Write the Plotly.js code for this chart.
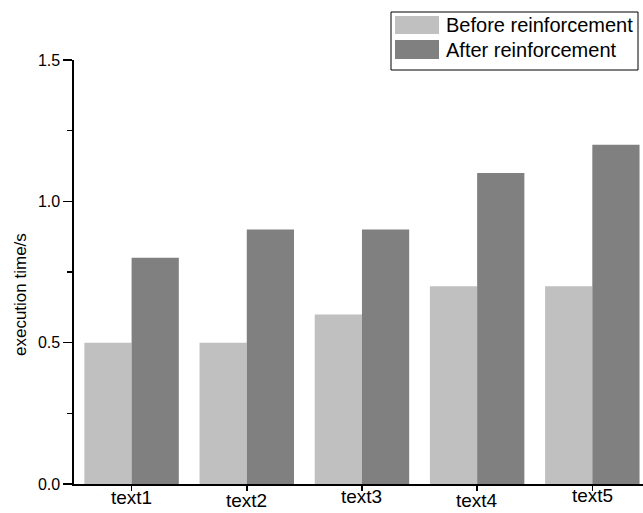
<!DOCTYPE html>
<html>
<head>
<meta charset="utf-8">
<script src="https://cdn.plot.ly/plotly-3.0.1.min.js"></script>
<style>html,body{margin:0;padding:0;overflow:hidden;background:#fff}</style>
</head>
<body>
<div id="chart" style="width:643px;height:513px"></div>
<script>
// ---- data ----
const categories = ["text1", "text2", "text3", "text4", "text5"];
const beforeValues = [0.5, 0.5, 0.6, 0.7, 0.7];
const afterValues = [0.8, 0.9, 0.9, 1.1, 1.2];
const seriesNames = ["Before reinforcement", "After reinforcement"];
const yTickVals = [0, 0.5, 1.0, 1.5];
const yTickText = ["0.0", "0.5", "1.0", "1.5"];
const yMinorVals = [0.25, 0.75, 1.25];
const yTitle = "execution time/s";

// ---- layout helpers (pixels -> paper) ----
const W = 643, H = 513;
const M = {l: 74, r: 0, t: 60, b: 29};
const PW = W - M.l - M.r, PH = H - M.t - M.b;
const px = x => (x - M.l) / PW;
const py = y => (H - M.b - y) / PH;

const lightColor = "#c0c0c0", darkColor = "#808080";
const font = "Liberation Sans, Arial, Helvetica, sans-serif";

const traces = [
  {type: "bar", x: categories, y: beforeValues, name: seriesNames[0],
   marker: {color: lightColor, line: {width: 0}}, showlegend: false, hoverinfo: "skip"},
  {type: "bar", x: categories, y: afterValues, name: seriesNames[1],
   marker: {color: darkColor, line: {width: 0}}, showlegend: false, hoverinfo: "skip"}
];

const labelShift = [-13, -16, -12, -16, -11];
const annotations = categories.map((c, i) => ({
  x: c, xref: "x", y: 0, yref: "paper", yshift: labelShift[i],
  text: c, showarrow: false, xanchor: "center", yanchor: "middle",
  font: {family: font, size: 19, color: "#000"}
}));
annotations.push({
  x: px(20), xref: "paper", y: py(295), yref: "paper", text: yTitle,
  textangle: -90, showarrow: false, xanchor: "center", yanchor: "middle",
  font: {family: font, size: 17, color: "#000"}
});
// legend texts
const legendTextY = [25, 50];
seriesNames.forEach((n, i) => annotations.push({
  x: px(444), xref: "paper", y: py(legendTextY[i]), yref: "paper", text: n,
  showarrow: false, xanchor: "left", yanchor: "middle",
  font: {family: font, size: 20, color: "#000"}
}));

const shapes = [
  {type: "rect", xref: "paper", yref: "paper", x0: px(391), x1: px(638), y0: py(12), y1: py(70),
   line: {color: "#000", width: 1}, fillcolor: "rgba(255,255,255,0)"},
  {type: "rect", xref: "paper", yref: "paper", x0: px(395), x1: px(439), y0: py(16), y1: py(34),
   line: {width: 0}, fillcolor: lightColor},
  {type: "rect", xref: "paper", yref: "paper", x0: px(395), x1: px(439), y0: py(40), y1: py(59),
   line: {width: 0}, fillcolor: darkColor}
];

const layout = {
  width: W, height: H,
  margin: M,
  paper_bgcolor: "#fff", plot_bgcolor: "#fff",
  barmode: "group", bargap: 0.18, bargroupgap: 0,
  showlegend: false,
  font: {family: font, color: "#000"},
  xaxis: {
    type: "category", range: [-0.5, 4.44],
    showline: true, linecolor: "#000", linewidth: 1.6,
    ticks: "outside", ticklen: 5, tickwidth: 1.5, tickcolor: "#000",
    showticklabels: false, showgrid: false, zeroline: false, fixedrange: true
  },
  yaxis: {
    range: [0, 1.5],
    showline: true, linecolor: "#000", linewidth: 1.6,
    ticks: "outside", ticklen: 9, tickwidth: 1.5, tickcolor: "#000",
    tickmode: "array", tickvals: yTickVals, ticktext: yTickText,
    tickfont: {family: font, size: 16, color: "#000"},
    minor: {tickmode: "array", tickvals: yMinorVals, ticks: "outside", ticklen: 5, tickwidth: 1.5, tickcolor: "#000", showgrid: false},
    showgrid: false, zeroline: false, fixedrange: true
  },
  annotations: annotations,
  shapes: shapes
};

Plotly.newPlot("chart", traces, layout, {staticPlot: true, displayModeBar: false});
</script>
</body>
</html>
